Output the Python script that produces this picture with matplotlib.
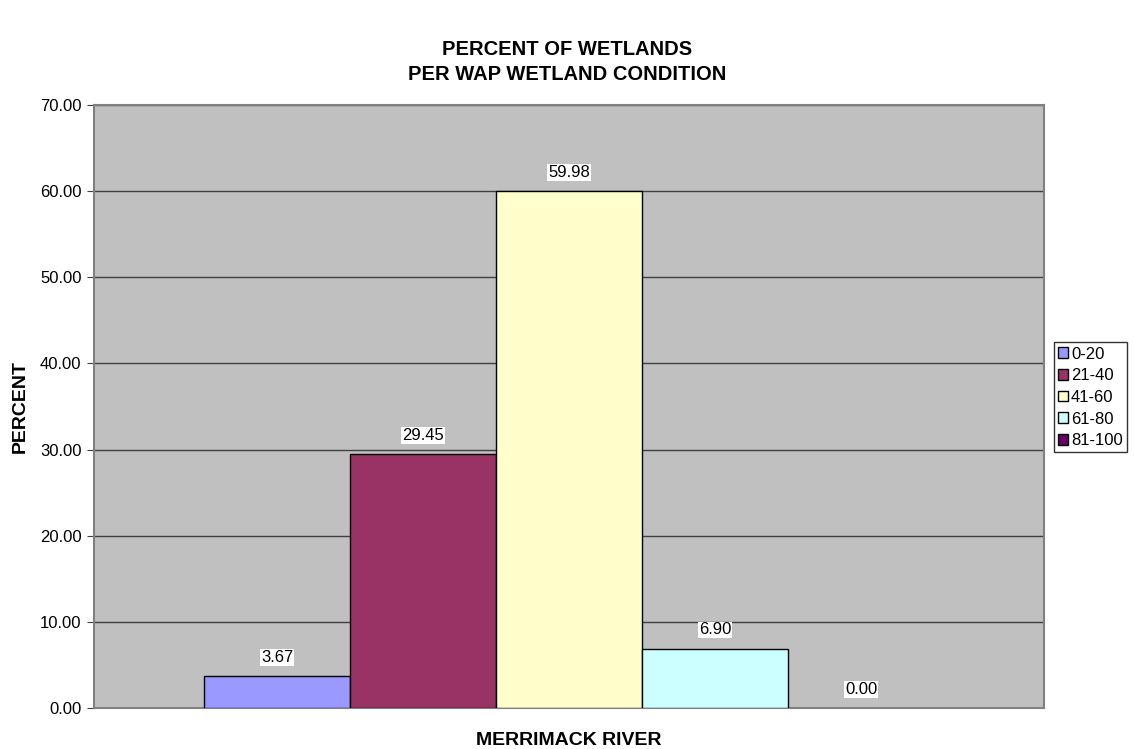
import matplotlib
matplotlib.use("Agg")
import matplotlib.pyplot as plt
import numpy as np

plt.rcParams['font.family'] = ['Liberation Sans', 'DejaVu Sans']

category = "MERRIMACK RIVER"
classes = ["0-20", "21-40", "41-60", "61-80", "81-100"]
percents = [3.67, 29.45, 59.98, 6.90, 0.00]
colors = ["#9999FF", "#993366", "#FFFFCC", "#CCFFFF", "#660066"]


def main():
    fig = plt.figure(figsize=(11.34, 7.49), dpi=100)
    ax = fig.add_axes([94/1134, 1 - 708/749, 950/1134, 603/749])
    ax.set_facecolor("#C0C0C0")

    width = 0.1537
    n = len(classes)
    offsets = (np.arange(n) - (n - 1) / 2) * width
    for off, val, col, lab in zip(offsets, percents, colors, classes):
        # a zero bar shows no outline in the original
        ax.bar(off, val, width=width, color=col, edgecolor="black",
               linewidth=1.0 if val > 0 else 0, label=lab, zorder=3)
        ax.annotate("%.2f" % val, (off, val), xytext=(0, 8),
                    textcoords="offset points", ha="center", va="bottom",
                    fontsize=12,
                    bbox=dict(boxstyle="square,pad=0.05", fc="white", ec="none"),
                    zorder=4)

    ax.set_xlim(-0.5, 0.5)
    ax.set_ylim(0, 70)
    ticks = np.arange(0, 71, 10)
    ax.set_yticks(ticks)
    ax.set_yticklabels(["%.2f" % v for v in ticks], fontsize=12)
    ax.set_xticks([])
    ax.yaxis.grid(True, color="#404040", linewidth=1.0, zorder=1)
    ax.set_axisbelow(True)
    ax.tick_params(axis="y", length=5, color="#404040", pad=4)
    for s in ax.spines.values():
        s.set_color("#808080")
        s.set_linewidth(1.5)

    ax.set_ylabel("PERCENT", fontsize=14, fontweight="bold", labelpad=8)
    ax.set_xlabel(category, fontsize=14, fontweight="bold", labelpad=17)

    fig.text(0.5, 1 - 62/749, "PERCENT OF WETLANDS\nPER WAP WETLAND CONDITION",
             ha="center", va="center", fontsize=14.5, fontweight="bold",
             linespacing=1.4)

    leg = ax.legend(loc="center left", bbox_to_anchor=(1.01, 0.515),
                    fontsize=12, frameon=True, fancybox=False,
                    edgecolor="black", handlelength=0.6, handleheight=0.6,
                    handletextpad=0.2, labelspacing=0.4, borderpad=0.25,
                    borderaxespad=0)
    leg.get_frame().set_linewidth(1.0)
    for h in leg.legend_handles:
        h.set_linewidth(1.0)

    fig.savefig("out.png", dpi=100)


if __name__ == "__main__":
    main()
